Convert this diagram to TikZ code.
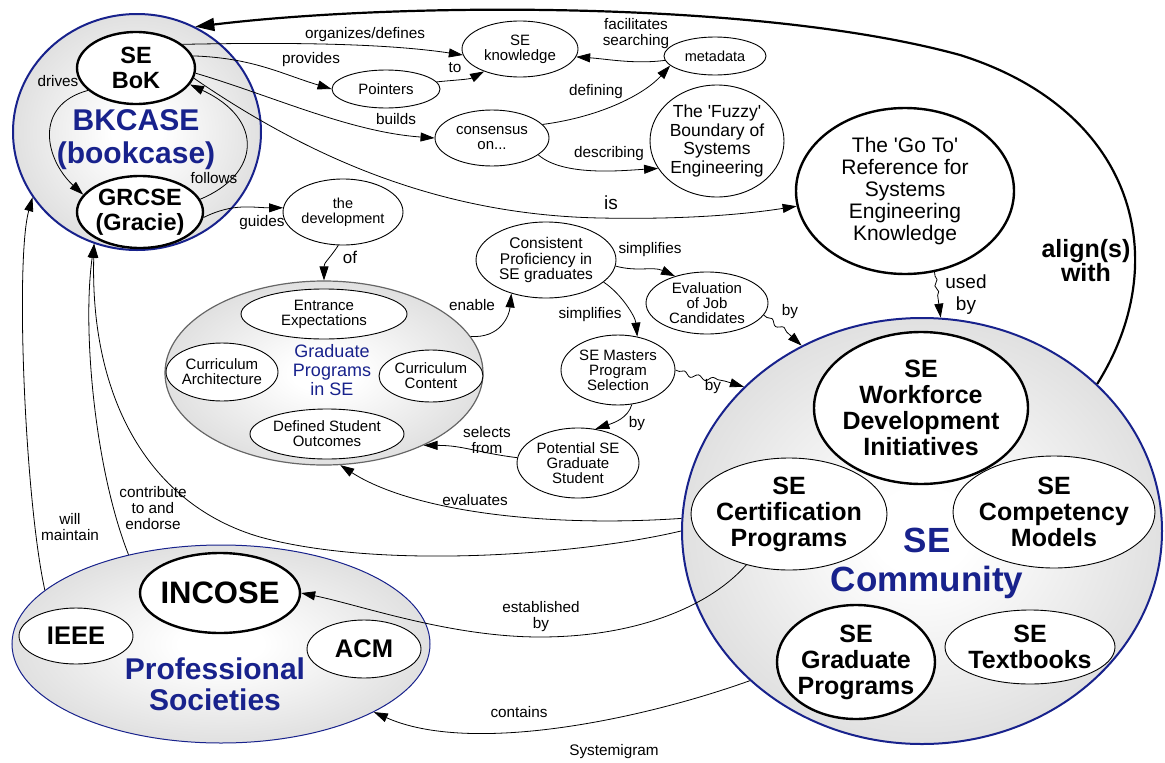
\documentclass[tikz,border=0pt]{standalone}
\usepackage{fontspec}
\setmainfont{Liberation Sans}
\usepackage{tikz}
\usetikzlibrary{shapes.geometric,arrows.meta,decorations.pathmorphing}

\definecolor{sebl}{RGB}{24,34,140}
\pgfdeclareradialshading{bkshade}{\pgfpoint{0bp}{0bp}}{color(0bp)=(white); color(5bp)=(white); color(30bp)=(black!15); color(50bp)=(black!28); color(72bp)=(black!28)}
\newcommand{\fsz}[2]{\fontsize{#1}{#2}\selectfont}

\tikzset{
  sz/.style 2 args={minimum width=#1pt, minimum height=#2pt},
  idea/.style={ellipse, draw, line width=0.9pt, fill=white, inner sep=-2pt, align=center, font=\fsz{15}{15}},
  keyidea/.style={idea, line width=2.4pt},
  boldidea/.style={inner sep=-5pt, font=\bfseries\fsz{25}{26}},
  cluster/.style={ellipse, draw=sebl, line width=2pt, shade, shading=bkshade, inner sep=0pt},
  grouptitle/.style={text=sebl, align=center, inner sep=0pt},
  lbl/.style={font=\fsz{15.3}{16}, align=center, inner sep=0pt},
  link/.style={-{Triangle[length=14pt,width=9pt]}, line width=0.8pt},
  squiggle/.style={decorate, decoration={snake, amplitude=2.2pt, segment length=15pt, pre length=4pt, post length=20pt}}
}

\begin{document}
\begin{tikzpicture}[x=1pt,y=-1pt]
  \useasboundingbox (0,0) rectangle (1165,763);

  \node[cluster, sz={248}{236}] (bkcase) at (137,132) {};
  \node[cluster, sz={318}{184}, draw=black!60, line width=1.2pt] (gradprog) at (324,373) {};
  \node[cluster, sz={480}{426}] (secomm) at (922,531) {};
  \node[cluster, sz={418}{198}, line width=1pt] (profsoc) at (221,644) {};

  \node[grouptitle, font=\bfseries\fsz{30}{33}] (bktitle) at (136,140) {BKCASE\\(bookcase)};
  \node[grouptitle, font=\fsz{18}{19}] (gptitle) at (332,370) {Graduate\\Programs\\in SE};
  \node[grouptitle, font=\bfseries\fsz{35}{39}] (sectitle) at (927,563) {SE\\Community};
  \node[grouptitle, font=\bfseries\fsz{30}{31}] (pstitle) at (215,684) {Professional\\Societies};

  \node[keyidea, sz={118}{72}, inner sep=-4pt, font=\bfseries\fsz{23.5}{25}] (bok) at (136,68) {SE\\BoK};
  \node[keyidea, sz={126}{72}, inner sep=-4pt, font=\bfseries\fsz{23.5}{25}] (grcse) at (140,212) {GRCSE\\(Gracie)};
  \node[idea, sz={120}{66}, font=\fsz{14.5}{15.5}] (dev) at (343,212) {the\\development};
  \node[idea, sz={166}{50}] (entr) at (324,314) {Entrance\\Expectations};
  \node[idea, sz={112}{58}] (carch) at (222,372) {Curriculum\\Architecture};
  \node[idea, sz={104}{52}] (ccont) at (431,376) {Curriculum\\Content};
  \node[idea, sz={154}{50}] (dso) at (327,434) {Defined Student\\Outcomes};
  \node[idea, sz={140}{76}, font=\fsz{15.5}{15.5}] (cons) at (546,260) {Consistent\\Proficiency in\\SE graduates};
  \node[idea, sz={114}{70}] (masters) at (618,370) {SE Masters\\Program\\Selection};
  \node[idea, sz={122}{70}] (potent) at (578,463) {Potential SE\\Graduate\\Student};
  \node[idea, sz={122}{62}] (evaljob) at (707,303) {Evaluation\\of Job\\Candidates};
  \node[idea, sz={116}{56}] (seknow) at (520,49) {SE\\knowledge};
  \node[idea, sz={108}{38}] (point) at (386,89) {Pointers};
  \node[idea, sz={114}{56}] (consen) at (492,138) {consensus\\on...};
  \node[idea, sz={102}{38}, font=\fsz{14.5}{15}] (meta) at (715,56) {metadata};
  \node[idea, sz={134}{112}, font=\fsz{17.5}{18.5}] (fuzzy) at (717,141) {The \textquotesingle Fuzzy\textquotesingle\\Boundary of\\Systems\\Engineering};
  \node[keyidea, sz={218}{166}, font=\fsz{21}{22}] (goto) at (905,191) {The \textquotesingle Go To\textquotesingle\\Reference for\\Systems\\Engineering\\Knowledge};
  \node[keyidea, boldidea, sz={214}{152}] (work) at (921,408) {SE\\Workforce\\Development\\Initiatives};
  \node[idea, boldidea, sz={196}{112}] (cert) at (789,514) {SE\\Certification\\Programs};
  \node[idea, boldidea, sz={202}{112}] (comp) at (1054,512) {SE\\Competency\\Models};
  \node[keyidea, boldidea, sz={158}{114}] (grad) at (856,662) {SE\\Graduate\\Programs};
  \node[idea, boldidea, sz={170}{74}] (textb) at (1030,647) {SE\\Textbooks};
  \node[keyidea, boldidea, sz={160}{80}, font=\bfseries\fsz{31}{32}] (incose) at (220,593) {INCOSE};
  \node[idea, boldidea, sz={114}{56}, font=\bfseries\fsz{25.5}{26}] (ieee) at (76,636) {IEEE};
  \node[idea, boldidea, sz={114}{58}, font=\bfseries\fsz{25.5}{26}] (acm) at (364,649) {ACM};

  \draw[link, line width=2.2pt, -{Triangle[length=19pt,width=13pt]}] (secomm.40) .. controls (1175,260) and (1135,110) .. (960,55) .. controls (760,0) and (400,2) .. (bkcase.61);
  \draw[link] (bok.205) .. controls +(-55,15) and +(-38,-35) .. (grcse.163);
  \draw[link] (grcse.12) .. controls +(60,-25) and +(75,35) .. (bok.-17);
  \draw[link] (grcse.-5) .. controls +(30,-15) and +(-30,0) .. (dev.176);
  \draw[link] (dev.262) .. controls +(-10,15) and +(0,-18) .. (gradprog.90);
  \draw[link] (bok.27) .. controls +(100,-2) and +(-80,-12) .. (seknow.186);
  \draw[link] (bok.12) .. controls +(60,2) and +(-50,-15) .. (point.west);
  \draw[link] (point.8) .. controls +(20,-2) and +(-15,8) .. (seknow.212);
  \draw[link] (bok.-5) .. controls +(75,22) and +(-85,-6) .. (consen.west);
  \draw[link] (bok.-10) .. controls (320,165) and (450,215) .. (600,218) .. controls (700,220) and (760,212) .. (goto.188);
  \draw[link] (meta.185) .. controls +(-30,4) and +(30,2) .. (seknow.-8);
  \draw[link] (consen.15) .. controls +(60,-8) and +(-25,28) .. (meta.192);
  \draw[link] (consen.-20) .. controls +(25,22) and +(-35,2) .. (fuzzy.205);
  \draw[link, squiggle, decoration={amplitude=1.5pt, segment length=12pt}] (goto.-70) -- (secomm.85);
  \draw[link, squiggle] (evaljob.-12) .. controls +(10,8) and +(-8,-10) .. (secomm.123);
  \draw[link, squiggle] (masters.0) .. controls +(25,10) and +(-25,-10) .. (secomm.141);
  \draw[link] (cons.-5) .. controls +(22,6) and +(-22,-10) .. (evaljob.140);
  \draw[link] (cons.-21) .. controls +(18,12) and +(-2,-20) .. (masters.60);
  \draw[link] (masters.-68) .. controls +(-4,14) and +(18,-6) .. (potent.63);
  \draw[link] (potent.175) .. controls +(-40,-5) and +(40,0) .. (gradprog.-36);
  \draw[link] (gradprog.14) .. controls +(30,2) and +(-2,22) .. (cons.224);
  \draw[link] (secomm.177) .. controls (540,528) and (410,510) .. (gradprog.-80);
  \draw[link] (secomm.180) .. controls (580,555) and (380,570) .. (260,537) .. controls (150,505) and (90,400) .. (bkcase.249);
  \draw[link] (profsoc.136) .. controls (95,470) and (82,330) .. (bkcase.249);
  \draw[link] (profsoc.163) .. controls (25,500) and (15,260) .. (bkcase.212);
  \draw[link] (cert.-130) .. controls +(-40,45) and +(90,0) .. (540,637) .. controls (450,637) and (360,605) .. (incose.east);
  \draw[link] (secomm.221) .. controls (640,720) and (470,755) .. (profsoc.-24);

  \node[lbl] (lDrives) at (58,81) {drives};
  \node[lbl] (lFollows) at (214,178) {follows};
  \node[lbl] (lGuides) at (262,223) {guides};
  \node[lbl, font=\fsz{17}{17}] (lOf) at (350,257) {of};
  \node[lbl] (lOrg) at (365,35) {organizes/defines};
  \node[lbl] (lProv) at (311,60) {provides};
  \node[lbl] (lTo) at (455,68) {to};
  \node[lbl] (lBuilds) at (396,119) {builds};
  \node[lbl] (lFacil) at (636,34) {facilitates\\searching};
  \node[lbl] (lDefin) at (596,92) {defining};
  \node[lbl] (lDescr) at (609,154) {describing};
  \node[lbl, font=\fsz{19}{19}] (lIs) at (611,203) {is};
  \node[lbl] (lEnable) at (472,305) {enable};
  \node[lbl] (lSimpA) at (650,250) {simplifies};
  \node[lbl] (lSimpB) at (590,315) {simplifies};
  \node[lbl] (lByA) at (637,424) {by};
  \node[lbl] (lByB) at (713,387) {by};
  \node[lbl] (lByC) at (790,312) {by};
  \node[lbl] (lSelects) at (487,440) {selects\\from};
  \node[lbl] (lEval) at (475,500) {evaluates};
  \node[lbl, font=\fsz{19}{22}] (lUsed) at (966,295) {used\\by};
  \node[lbl, font=\bfseries\fsz{25}{24}] (lAlign) at (1086,261) {align(s)\\with};
  \node[lbl] (lContrib) at (153,508) {contribute\\to and\\endorse};
  \node[lbl] (lMaint) at (70,527) {will\\maintain};
  \node[lbl] (lEstab) at (541,617) {established\\by};
  \node[lbl] (lContains) at (519,712) {contains};
  \node[lbl] (caption) at (614,752) {Systemigram};
\end{tikzpicture}
\end{document}
